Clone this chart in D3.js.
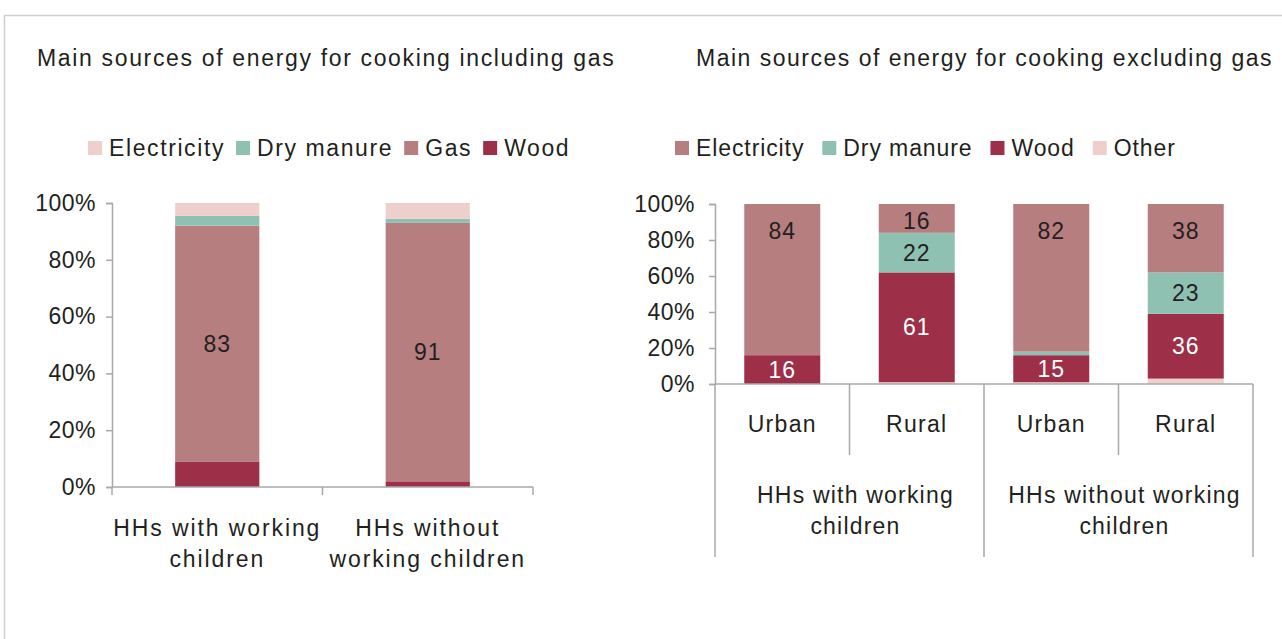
<!DOCTYPE html>
<html>
<head>
<meta charset="utf-8">
<script src="https://cdn.jsdelivr.net/npm/d3@7"></script>
<style>
  body { margin: 0; background: #fff; }
  svg { display: block; font-family: "Liberation Sans", Arial, sans-serif; }
</style>
</head>
<body>
<svg id="chart" width="1282" height="639"></svg>
<script>
// ---- Left panel: including gas ----
const leftTitle = "Main sources of energy for cooking including gas";
const leftCategories = ["HHs with working children", "HHs without working children"];
const leftCategoryLines = [["HHs with working", "children"], ["HHs without", "working children"]];
const leftLegend = ["Electricity", "Dry manure", "Gas", "Wood"];
const leftWood = [9, 2];
const leftGas = [83, 91];
const leftManure = [3.5, 1.5];
const leftElectricity = [4.5, 5.5];

// ---- Right panel: excluding gas ----
const rightTitle = "Main sources of energy for cooking excluding gas";
const rightCategories = ["Urban", "Rural", "Urban", "Rural"];
const rightGroups = ["HHs with working children", "HHs without working children"];
const rightGroupLines = [["HHs with working", "children"], ["HHs without working", "children"]];
const rightLegend = ["Electricity", "Dry manure", "Wood", "Other"];
const rightOther = [0, 1, 1, 3];
const rightWood = [16, 61, 15, 36];
const rightManure = [0, 22, 2, 23];
const rightElectricity = [84, 16, 82, 38];

const yTicks = [0, 20, 40, 60, 80, 100];

// palette
const C_WOOD = "#9e2f48", C_ROSE = "#b77e80", C_TEAL = "#8fc1b3", C_PINK = "#efcfcb";
const TEXT = "#231f20", AXIS = "#a9a9ad";
const FS = 23;

const svg = d3.select("#chart");

// outer frame
svg.append("path").attr("d", "M4.5,639 V15.5 H1282")
  .attr("fill", "none").attr("stroke", "#cfcfcf").attr("stroke-width", 1.5);

function txt(g, ls) {
  return g.append("text").attr("font-size", FS).attr("fill", TEXT).attr("letter-spacing", ls);
}

function legend(g, items, colors, x0, gap, ls) {
  let x = x0;
  items.forEach((name, i) => {
    g.append("rect").attr("x", x).attr("y", 141).attr("width", 14).attr("height", 14).attr("fill", colors[i]);
    const t = txt(g, ls).attr("x", x + 21).attr("y", 156).text(name);
    x += 21 + t.node().getComputedTextLength() + gap;
  });
}

function yAxis(g, y, x, pad) {
  const ax = g.append("g").attr("transform", `translate(${x},0)`)
    .call(d3.axisLeft(y).tickValues(yTicks).tickFormat(d => d + "%").tickSize(6).tickSizeOuter(6).tickPadding(pad));
  ax.selectAll("path,line").attr("stroke", AXIS).attr("stroke-width", 1.5);
  ax.selectAll("text").attr("font-size", FS).attr("fill", TEXT).attr("font-family", null).attr("letter-spacing", 0.5);
}

// ===== Left chart =====
{
  const g = svg.append("g");
  txt(g, 1.66).attr("x", 37).attr("y", 66).text(leftTitle);
  legend(g, leftLegend, [C_PINK, C_TEAL, C_ROSE, C_WOOD], 88, 11, 1.6);

  const x = d3.scaleBand().domain(leftCategories).range([112, 533]).paddingInner(0.6).paddingOuter(0.3);
  const y = d3.scaleLinear().domain([0, 100]).range([487, 203]);
  const rows = leftCategories.map((c, i) => ({
    cat: c, Wood: leftWood[i], Gas: leftGas[i], "Dry manure": leftManure[i], Electricity: leftElectricity[i]
  }));
  const keys = ["Wood", "Gas", "Dry manure", "Electricity"];
  const color = d3.scaleOrdinal().domain(keys).range([C_WOOD, C_ROSE, C_TEAL, C_PINK]);
  const stack = d3.stack().keys(keys)(rows);

  stack.forEach(s => {
    g.append("g").selectAll("rect").data(s).join("rect")
      .attr("x", d => x(d.data.cat)).attr("width", x.bandwidth())
      .attr("y", d => y(d[1])).attr("height", d => y(d[0]) - y(d[1]))
      .attr("fill", color(s.key));
  });
  // value labels on the gas segment
  const gas = stack.find(s => s.key === "Gas");
  g.append("g").selectAll("text").data(gas).join("text")
    .attr("x", d => x(d.data.cat) + x.bandwidth() / 2)
    .attr("y", d => (y(d[0]) + y(d[1])) / 2)
    .attr("dy", "0.35em").attr("text-anchor", "middle").attr("font-size", FS).attr("fill", TEXT)
    .attr("letter-spacing", 1)
    .text(d => d[1] - d[0]);

  yAxis(g, y, 112, 10);

  // category axis with dividers
  const step = (533 - 112) / leftCategories.length;
  g.append("line").attr("x1", 112).attr("x2", 533).attr("y1", 487).attr("y2", 487).attr("stroke", AXIS).attr("stroke-width", 1.5);
  d3.range(leftCategories.length + 1).forEach(i => {
    g.append("line").attr("x1", 112 + i * step).attr("x2", 112 + i * step).attr("y1", 487).attr("y2", 495)
      .attr("stroke", AXIS).attr("stroke-width", 1.5);
  });
  leftCategories.forEach((c, i) => {
    const cx = x(c) + x.bandwidth() / 2;
    const t = txt(g, 1.9).attr("text-anchor", "middle").attr("x", cx).attr("y", 536);
    leftCategoryLines[i].forEach((line, j) => t.append("tspan").attr("x", cx).attr("dy", j ? 31 : 0).text(line));
  });
}

// ===== Right chart =====
{
  const g = svg.append("g");
  txt(g, 1.5).attr("x", 696).attr("y", 66).text(rightTitle);
  legend(g, rightLegend, [C_ROSE, C_TEAL, C_WOOD, C_PINK], 675, 18, 0.9);

  const ids = rightCategories.map((c, i) => i);
  const x = d3.scaleBand().domain(ids).range([715, 1253]).paddingInner(0.435).paddingOuter(0.2175);
  const y = d3.scaleLinear().domain([0, 100]).range([384, 204]);
  const rows = ids.map(i => ({
    id: i, Other: rightOther[i], Wood: rightWood[i], "Dry manure": rightManure[i], Electricity: rightElectricity[i]
  }));
  const keys = ["Other", "Wood", "Dry manure", "Electricity"];
  const color = d3.scaleOrdinal().domain(keys).range([C_PINK, C_WOOD, C_TEAL, C_ROSE]);
  const stack = d3.stack().keys(keys)(rows);

  stack.forEach(s => {
    g.append("g").selectAll("rect").data(s).join("rect")
      .attr("x", d => x(d.data.id)).attr("width", x.bandwidth())
      .attr("y", d => y(d[1])).attr("height", d => y(d[0]) - y(d[1]))
      .attr("fill", color(s.key));
  });

  // value labels
  stack.filter(s => s.key !== "Other").forEach(s => {
    const lab = s.filter(d => d[1] - d[0] >= 5);
    g.append("g").selectAll("text").data(lab).join("text")
      .attr("x", d => x(d.data.id) + x.bandwidth() / 2)
      .attr("y", d => {
        const mid = (y(d[0]) + y(d[1])) / 2;
        return s.key === "Electricity" ? Math.min(mid + 3, y(d[1]) + 27) : mid;
      })
      .attr("dy", "0.35em").attr("text-anchor", "middle").attr("font-size", FS)
      .attr("letter-spacing", 1)
      .attr("fill", s.key === "Wood" ? "#ffffff" : TEXT)
      .text(d => d[1] - d[0]);
  });

  yAxis(g, y, 715, 14);

  // two-level category axis
  const step = (1253 - 715) / rightCategories.length;
  g.append("line").attr("x1", 715).attr("x2", 1253).attr("y1", 384).attr("y2", 384).attr("stroke", AXIS).attr("stroke-width", 1.5);
  d3.range(rightCategories.length + 1).forEach(i => {
    const outer = i % 2 === 0;
    g.append("line").attr("x1", 715 + i * step).attr("x2", 715 + i * step)
      .attr("y1", 384).attr("y2", outer ? 557 : 455)
      .attr("stroke", AXIS).attr("stroke-width", 1.5);
  });
  rightCategories.forEach((c, i) => {
    txt(g, 1.3).attr("text-anchor", "middle").attr("x", 715 + (i + 0.5) * step).attr("y", 432).text(c);
  });
  rightGroups.forEach((grp, i) => {
    const cx = 715 + (i * 2 + 1) * step + 6;
    const t = txt(g, 1.2).attr("text-anchor", "middle").attr("y", 503);
    rightGroupLines[i].forEach((line, j) => t.append("tspan").attr("x", cx).attr("dy", j ? 31 : 0).text(line));
  });
}
</script>
</body>
</html>
